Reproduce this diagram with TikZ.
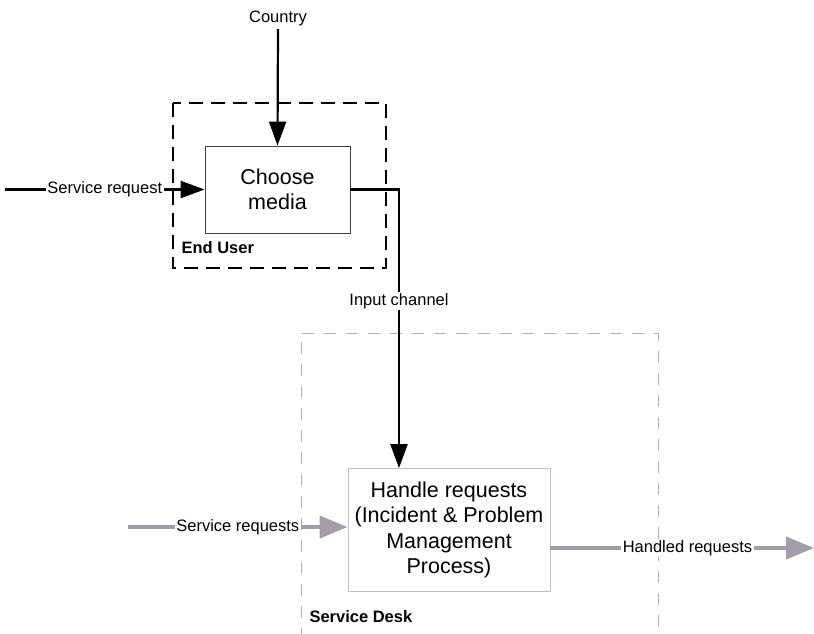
\documentclass[tikz,border=0pt]{standalone}
\usepackage{fontspec}
\setmainfont{Liberation Sans}
\usetikzlibrary{arrows.meta}
\definecolor{gline}{HTML}{A39DAB}
\definecolor{gdash}{HTML}{B5AEBE}
\definecolor{gbox}{HTML}{C4BECB}
\tikzset{
  procbox/.style={draw=#1, line width=0.8pt, align=center, inner sep=0pt,
    font=\fontsize{21.5}{25.5}\selectfont},
  small/.style={font=\fontsize{16.5}{19}\selectfont},
  lbl/.style={small, fill=white, inner sep=1.5pt},
  blackarrow/.style={draw=black, line width=2.2pt,
    -{Triangle[length=24pt,width=17pt]}},
  greyarrow/.style={draw=gline, line width=4pt,
    -{Triangle[length=28pt,width=22pt]}},
  bdash/.style={draw=black, line width=2pt, dash pattern=on 14pt off 8pt},
  gdashed/.style={draw=gdash, line width=1pt, dash pattern=on 12pt off 10pt},
  grouplabel/.style={font=\bfseries\fontsize{16.5}{19}\selectfont, anchor=west}
}
\begin{document}
\begin{tikzpicture}[x=1pt,y=-1pt]
\useasboundingbox (0,0) rectangle (814,633);
% group frames
\draw[bdash] (173,103) rectangle (386,268);
\node[grouplabel] (eu) at (178,248) {End User};
\draw[gdashed] (301,640) -- (301,333) -- (658,333) -- (658,640);
\node[grouplabel] (sd) at (306,617) {Service Desk};
% process boxes
\node[procbox=black!75, minimum width=145pt, minimum height=87pt] (cm) at (277.5,189.5) {Choose\\media};
\node[procbox=gbox, minimum width=202pt, minimum height=123pt] (hr) at (449,530) {Handle requests\\(Incident \& Problem\\Management\\Process)};
% external texts and free ends
\node[small] (country) at (278,18) {Country};
\coordinate (srin) at (5,189.5);
\coordinate (srsin) at (128,527);
\coordinate (hrout) at (814,548);
% connectors
\draw[blackarrow] (country.south) -- (cm.north);
\draw[blackarrow] (srin) -- node[lbl] {Service request} (cm.west);
\draw[blackarrow] (cm.east) -- (399,189.5) -- node[lbl, pos=0.40] {Input channel} (hr.north -| 399,0);
\draw[greyarrow] (srsin) -- node[lbl] {Service requests} (srsin -| hr.west);
\draw[greyarrow] (hr.east |- hrout) -- node[lbl, pos=0.52] {Handled requests} (hrout);
\end{tikzpicture}
\end{document}
